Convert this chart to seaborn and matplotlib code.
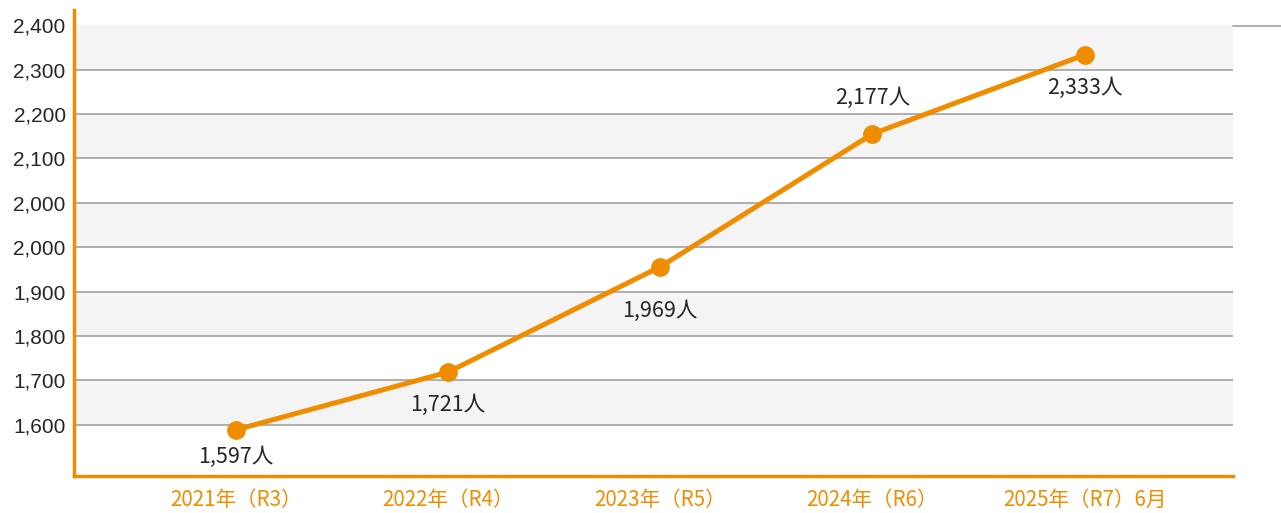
import matplotlib
matplotlib.use("Agg")
import matplotlib.pyplot as plt
from matplotlib.lines import Line2D
import seaborn as sns
import pandas as pd

# ---- data ----
categories = ["2021年（R3）", "2022年（R4）", "2023年（R5）", "2024年（R6）", "2025年（R7）6月"]
values = [1597, 1721, 1969, 2177, 2333]            # displayed values
plot_y = [1589, 1719, 1956, 2255, 2433]            # point heights as drawn on the chart's axis
value_labels = ["1,597人", "1,721人", "1,969人", "2,177人", "2,333人"]
tick_pos = [1600, 1700, 1800, 1900, 2000, 2100, 2200, 2300, 2400, 2500]
tick_labels = ["1,600", "1,700", "1,800", "1,900", "2,000", "2,000", "2,100", "2,200", "2,300", "2,400"]
label_offsets = [-27, -33, -44, 36, -33]           # px, label position relative to point

ORANGE = "#F08C00"
TEXT = "#2A2523"

sns.set_theme(style="white")
plt.rcParams["font.family"] = ["Noto Sans CJK JP", "DejaVu Sans"]

fig = plt.figure(figsize=(12.81, 5.13), dpi=100)
ax = fig.add_axes([74/1281, (513-476)/513, (1233-74)/1281, (476-10)/513])

# alternating bands
for i in range(len(tick_pos) - 1):
    if (len(tick_pos) - 2 - i) % 2 == 0:
        ax.axhspan(tick_pos[i], tick_pos[i+1], color="#F4F4F4", lw=0, zorder=0)
for t in tick_pos[:-1]:
    ax.axhline(t, color="#9A9A9A", lw=1.1, zorder=1)

df = pd.DataFrame({"x": range(len(categories)), "y": plot_y})
sns.lineplot(data=df, x="x", y="y", ax=ax, color=ORANGE, linewidth=3.6,
             marker="o", markersize=13.5, markeredgewidth=0, zorder=3)

for xi, yi, lab, off in zip(range(len(categories)), plot_y, value_labels, label_offsets):
    ax.annotate(lab, (xi, yi), xytext=(0, off*0.72), textcoords="offset points",
                ha="center", va="center", fontsize=15.5, color=TEXT)

ax.set_xlim(-0.764, 4.70)
ax.set_ylim(1485, 2534)
ax.set_xticks(range(len(categories)))
ax.set_xticklabels(categories, color=ORANGE, fontsize=14.8)
ax.set_yticks(tick_pos)
ax.set_yticklabels(tick_labels, color=TEXT, fontsize=15,
                   family=["Liberation Sans", "DejaVu Sans"])
ax.tick_params(axis="both", length=0)
ax.tick_params(axis="x", pad=9)
ax.tick_params(axis="y", pad=6)
ax.set_xlabel("")
ax.set_ylabel("")

for s in ["top", "right"]:
    ax.spines[s].set_visible(False)
ax.spines["left"].set_color(ORANGE)
ax.spines["left"].set_linewidth(2.5)
ax.spines["bottom"].set_color(ORANGE)
ax.spines["bottom"].set_linewidth(2.5)
ax.set_facecolor("white")

fig.add_artist(Line2D([1233/1281, 1.0], [(513-25.5)/513]*2, color="#AAAAAA", lw=1.3,
                      transform=fig.transFigure))

fig.savefig("out.png", dpi=100)
